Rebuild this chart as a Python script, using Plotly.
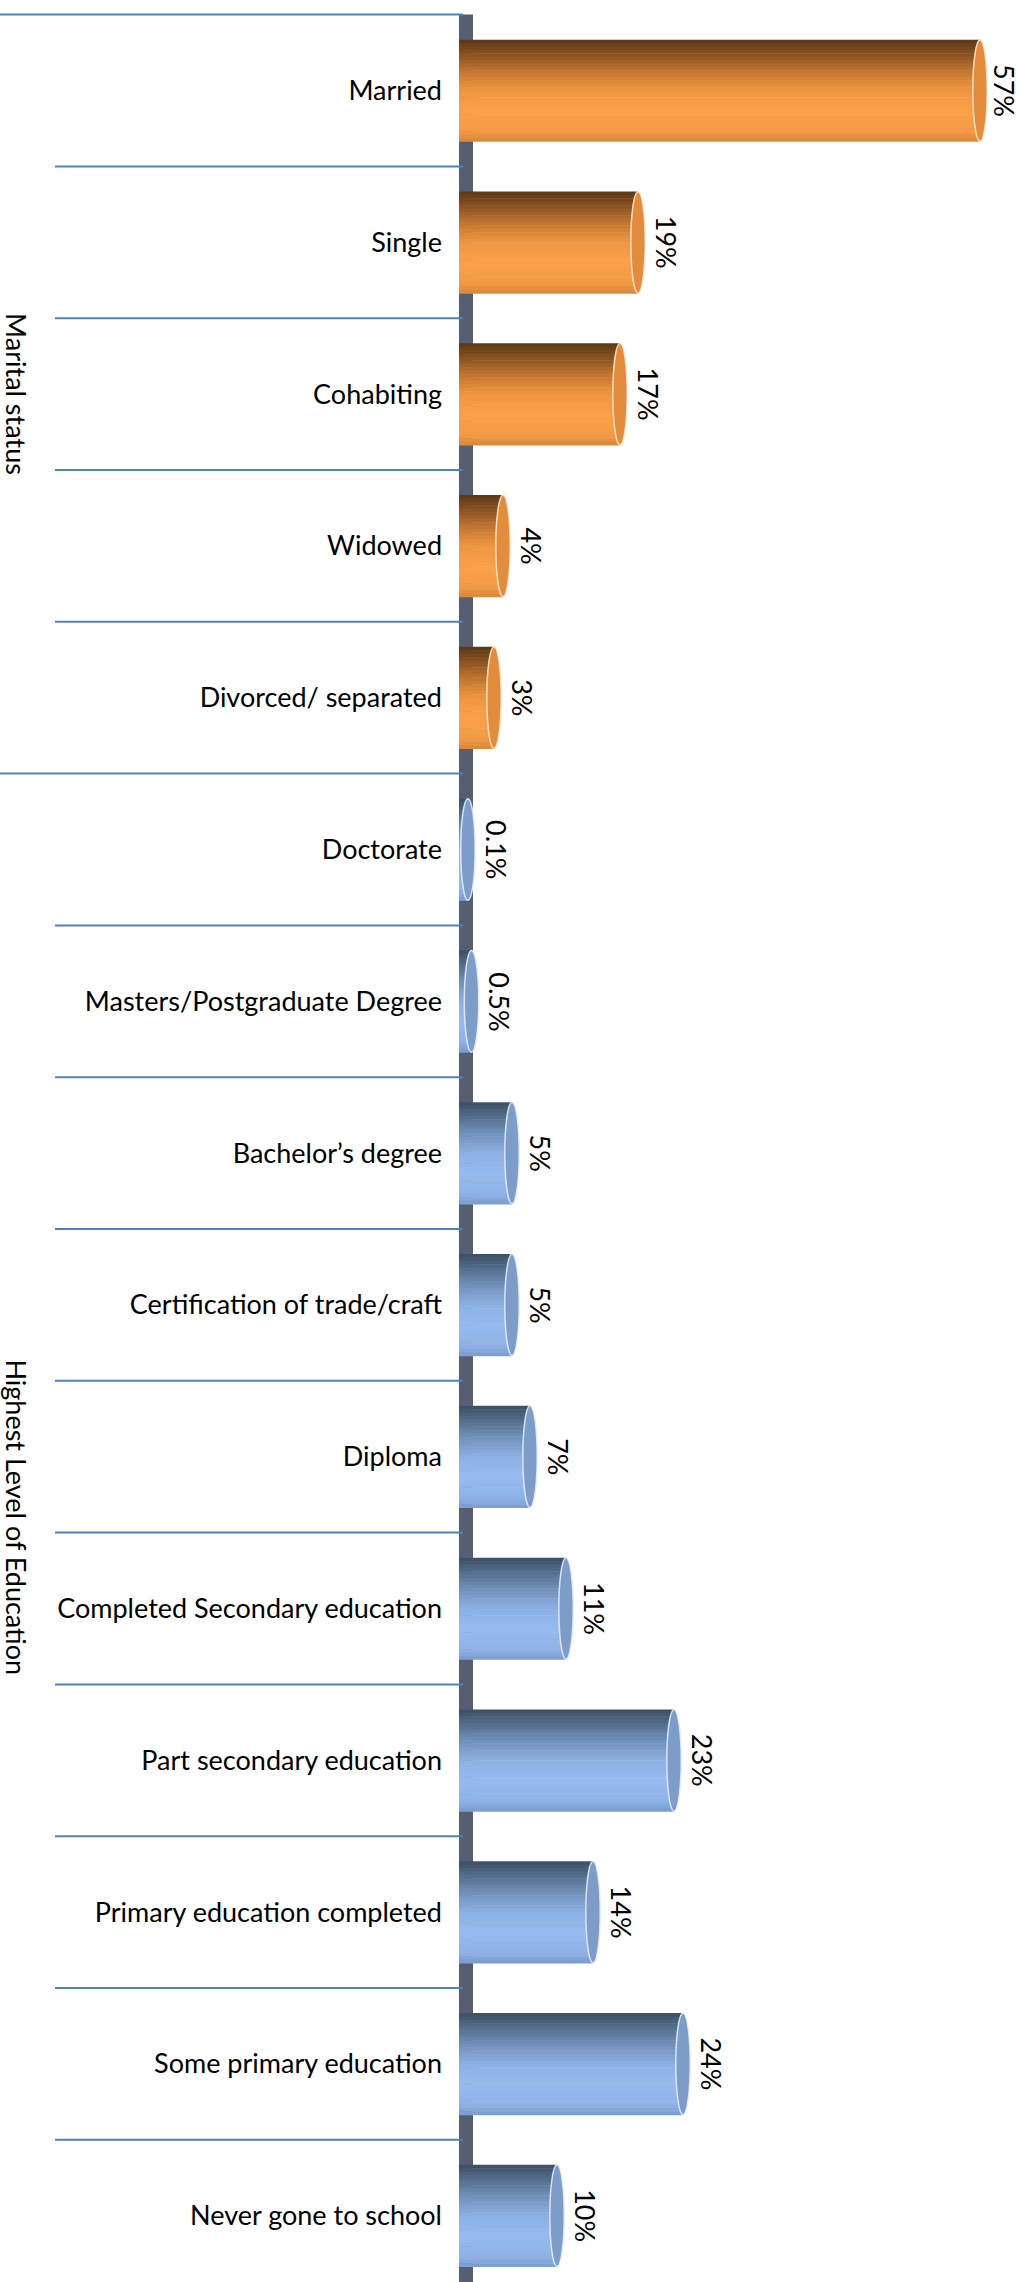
import plotly.graph_objects as go

# data, top to bottom as in the chart
marital_cats = ["Married", "Single", "Cohabiting", "Widowed", "Divorced/ separated"]
marital_vals = [57, 19, 17, 4, 3]

edu_cats = [
    "Doctorate", "Masters/Postgraduate Degree", "Bachelor’s degree",
    "Certification of trade/craft", "Diploma", "Completed Secondary education",
    "Part secondary education", "Primary education completed",
    "Some primary education", "Never gone to school",
]
edu_vals = [0.1, 0.5, 5, 5, 7, 11, 23, 14, 24, 10]

groups = ["Marital status", "Highest Level of Education"]

cats = marital_cats + edu_cats
vals = marital_vals + edu_vals
n_cat = len(cats)
pos = list(range(n_cat))

W, H = 1020, 2282
ML = 459            # left margin (wall edge)
X0_PX = 467         # pixel of value 0 (bars start at the wall, 3D depth)
PX_PER = 9.0        # pixels per percent
CAT_PX = 151.8      # pixels per category
TOP_PX = 14.6       # pixel of first category boundary
BAR_W = 0.67
FONT = "Lato, 'Open Sans', sans-serif"

x_lo = -(X0_PX - ML) / PX_PER
x_hi = x_lo + (W - ML) / PX_PER
y_top = -0.5 - TOP_PX / CAT_PX
y_bot = y_top + H / CAT_PX

# vertical gradient stops (top -> bottom) to fake the cylinder shading
orange_stops = [(0, (91, 55, 20)), (0.15, (138, 84, 35)), (0.32, (195, 120, 48)),
                (0.5, (239, 150, 66)), (0.7, (251, 160, 74)), (0.9, (243, 154, 70)),
                (1.0, (217, 135, 60))]
blue_stops = [(0, (60, 78, 99)), (0.15, (86, 111, 143)), (0.32, (115, 147, 189)),
              (0.5, (140, 176, 227)), (0.7, (151, 187, 238)), (0.9, (143, 178, 230)),
              (1.0, (122, 157, 204))]


def grad(stops, t):
    for (t0, c0), (t1, c1) in zip(stops, stops[1:]):
        if t <= t1:
            f = (t - t0) / (t1 - t0) if t1 > t0 else 0
            return "rgb(%d,%d,%d)" % tuple(round(a + (b - a) * f) for a, b in zip(c0, c1))
    return "rgb(%d,%d,%d)" % stops[-1][1]


n_m = len(marital_cats)
fig = go.Figure()

N_BANDS = 30
step = BAR_W / N_BANDS
bar_len = [v - x_lo for v in vals]
for i in range(N_BANDS):
    t = (i + 0.5) / N_BANDS
    colors = [grad(orange_stops, t) if k < n_m else grad(blue_stops, t) for k in range(n_cat)]
    fig.add_trace(go.Bar(
        x=bar_len, y=pos, base=x_lo, orientation="h",
        width=step * 1.15, offset=-BAR_W / 2 + i * step,
        marker=dict(color=colors, line_width=0),
        hoverinfo="skip", showlegend=False,
    ))

shapes = []
# wall behind the bars
shapes.append(dict(type="rect", xref="paper", yref="y", x0=0, x1=14 / (W - ML),
                   y0=-0.5, y1=n_cat, fillcolor="#585e72", line_width=0, layer="below"))

# end caps of the cylinders
for k, v in enumerate(vals):
    cap = "rgb(226,140,62)" if k < n_m else "rgb(125,156,200)"
    rim = "rgba(255,228,200,0.9)" if k < n_m else "rgba(225,236,250,0.9)"
    shapes.append(dict(type="circle", xref="x", yref="y",
                       x0=v - 0.8, x1=v + 0.8, y0=k - BAR_W / 2, y1=k + BAR_W / 2,
                       fillcolor=cap, line=dict(color=rim, width=1.5), layer="above"))

# category separators
for k in range(n_cat):
    start = 0 if k in (0, n_m) else 55
    shapes.append(dict(type="line", xref="paper", yref="y",
                       x0=(start - ML) / (W - ML), x1=(463 - ML) / (W - ML),
                       y0=k - 0.5, y1=k - 0.5,
                       line=dict(color="#4f81bd", width=2), layer="below"))

annotations = []
for k, v in enumerate(vals):
    annotations.append(dict(x=v, y=k, xref="x", yref="y", text=f"{v:g}%",
                            textangle=90, showarrow=False, xanchor="left",
                            yanchor="middle", xshift=6 if v > 50 else 10,
                            font=dict(family=FONT, size=27, color="black")))

group_pos = [(n_m - 1) / 2, 9.4]
for g, yp in zip(groups, group_pos):
    annotations.append(dict(x=(17 - ML) / (W - ML), y=yp, xref="paper", yref="y",
                            text=g, textangle=90, showarrow=False,
                            xanchor="center", yanchor="middle",
                            font=dict(family=FONT, size=27, color="black")))

fig.update_layout(
    width=W, height=H,
    margin=dict(l=ML, r=0, t=0, b=0),
    paper_bgcolor="white", plot_bgcolor="white",
    barmode="overlay",
    showlegend=False,
    shapes=shapes,
    annotations=annotations,
    font=dict(family=FONT, size=27, color="black"),
)
fig.update_xaxes(visible=False, range=[x_lo, x_hi], fixedrange=True)
fig.update_yaxes(
    range=[y_bot, y_top],
    tickmode="array", tickvals=pos, ticktext=cats,
    showgrid=False, zeroline=False, showline=False, ticks="",
    ticklabelstandoff=16,
    tickfont=dict(family=FONT, size=27, color="black"),
)

# drop the browser's default body margin so the chart sits at the page corner
fig.write_html("out.html", config={"displayModeBar": False},
               post_script="document.body.style.margin='0px';")
